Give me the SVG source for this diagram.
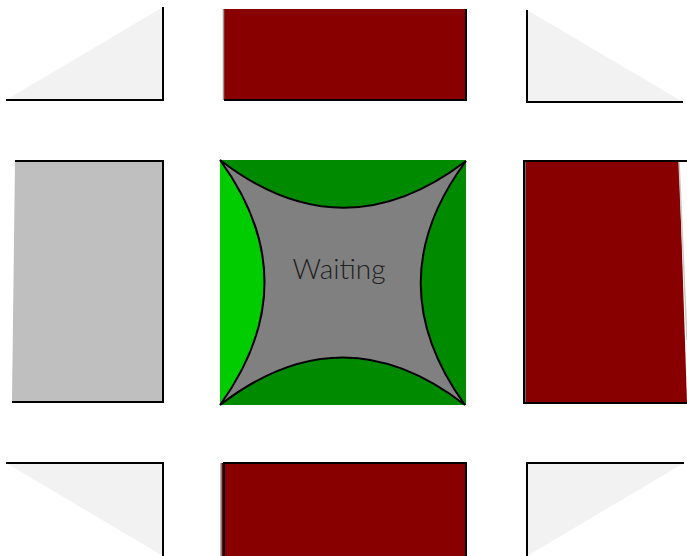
<svg xmlns="http://www.w3.org/2000/svg" width="687" height="556" viewBox="0 0 687 556">
<style>
.edge{fill:none;stroke:#000;stroke-width:2;stroke-linejoin:miter}
.tri{fill:#f2f2f2}
.red{fill:#880000}
.lbl{font-family:Lato,"Open Sans",sans-serif;font-weight:300;font-size:28px;fill:#222}
</style>
<rect width="687" height="556" fill="#fff"/>
<g id="top-left">
<polygon class="tri" points="6,100 163,100 163,7"/>
<polyline class="edge" points="6,100 163,100 163,7"/>
</g>
<g id="top-middle">
<rect class="red" x="223" y="9" width="243" height="91"/>
<line x1="223.5" y1="9" x2="223.5" y2="100" stroke="#999" stroke-width="1.5"/>
<polyline class="edge" points="224,100 466,100 466,9"/>
</g>
<g id="top-right">
<polygon class="tri" points="527,10 527,102 683,102"/>
<polyline class="edge" points="527,10 527,102 683,102"/>
</g>
<g id="middle-left">
<polygon fill="#bfbfbf" points="15,161 163,161 163,402 12,402"/>
<polyline class="edge" points="15,161 163,161 163,402 12,402"/>
</g>
<g id="waiting">
<rect x="220" y="160" width="246" height="245" fill="#008a00"/>
<path d="M220,160 Q309,282 220,405 Z" fill="#00cc00"/>
<path d="M220,160 Q343,255 466,161 Q376,282 465,405 Q343,310 220,405 Q309,282 220,160 Z" fill="#808080" stroke="#000" stroke-width="2"/>
<text class="lbl" x="339" y="279" text-anchor="middle">Waiting</text>
</g>
<g id="middle-right">
<polygon class="red" points="524,161 679,161 687,403 524,403"/>
<line x1="679" y1="161" x2="687" y2="340" stroke="#ccc" stroke-width="1.5"/>
<line x1="524.5" y1="161" x2="524.5" y2="403" stroke="#666" stroke-width="3"/>
<polyline class="edge" points="687,161 524,161 524,403 687,403"/>
</g>
<g id="bottom-left">
<polygon class="tri" points="6,463 163,463 163,556"/>
<polyline class="edge" points="6,463 163,463 163,556"/>
</g>
<g id="bottom-middle">
<rect class="red" x="221" y="463" width="245" height="93"/>
<line x1="221" y1="463" x2="221" y2="556" stroke="#999" stroke-width="1.5"/>
<polyline class="edge" points="224,556 224,463 466,463 466,556"/>
</g>
<g id="bottom-right">
<polygon class="tri" points="527,463 684,463 527,556"/>
<polyline class="edge" points="527,556 527,463 684,463"/>
</g>
<g id="connectors"></g>
</svg>
